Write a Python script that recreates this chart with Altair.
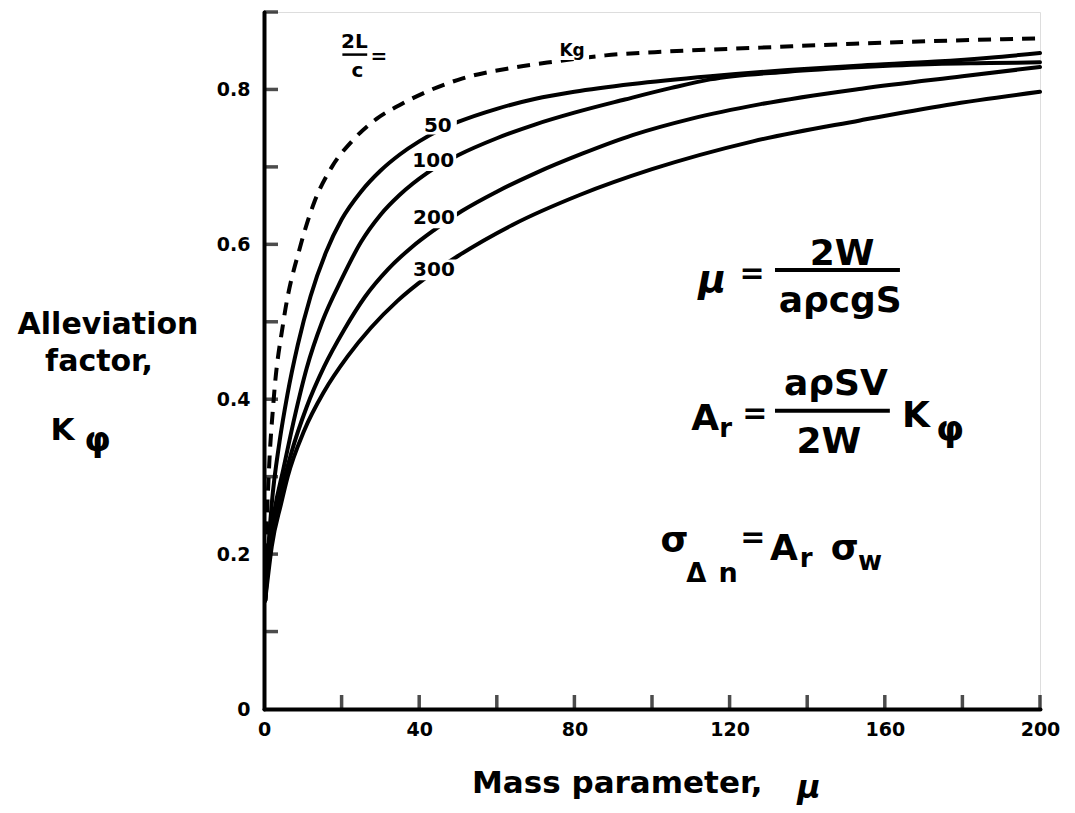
import altair as alt
import pandas as pd

# ---------------- data ----------------
mu_kg = [0.3, 0.6, 1.2, 2.5, 5, 9.5, 13, 17.5, 23, 29, 35, 41, 51, 64, 75, 88, 104, 128, 152, 176, 200]
k_kg = [0.14, 0.22, 0.30, 0.40, 0.50, 0.60, 0.655, 0.70, 0.735, 0.762, 0.78, 0.795, 0.814, 0.828, 0.836,
        0.844, 0.849, 0.854, 0.859, 0.863, 0.866]

mu_50 = [0.3, 1, 2, 4, 6, 8.7, 12, 16, 20, 25, 30, 35, 40, 45, 50, 60, 70, 80, 95, 115, 135, 154, 173, 187, 200]
k_50 = [0.14, 0.20, 0.265, 0.345, 0.405, 0.47, 0.533, 0.59, 0.632, 0.668, 0.695, 0.716, 0.733, 0.747, 0.758,
        0.775, 0.788, 0.797, 0.807, 0.817, 0.825, 0.831, 0.836, 0.841, 0.847]

mu_100 = [0.3, 1, 2.5, 5, 7.8, 11, 15, 20, 25, 30, 35, 42, 50, 60, 70, 80, 93, 105, 115, 135, 154, 173, 187, 200]
k_100 = [0.14, 0.19, 0.25, 0.31, 0.375, 0.44, 0.50, 0.555, 0.603, 0.638, 0.664, 0.692, 0.715, 0.737, 0.755,
         0.77, 0.787, 0.802, 0.813, 0.823, 0.829, 0.833, 0.834, 0.835]

mu_200 = [0.3, 1, 2, 4.4, 7, 11, 15.5, 20.7, 26, 32, 38, 44, 51, 60, 70, 82, 95, 110, 128, 154, 180, 200]
k_200 = [0.14, 0.18, 0.22, 0.28, 0.33, 0.39, 0.442, 0.49, 0.532, 0.568, 0.596, 0.619, 0.643, 0.668, 0.692,
         0.717, 0.741, 0.762, 0.781, 0.801, 0.817, 0.829]

mu_300 = [0.3, 1, 2, 4.4, 6.1, 10.4, 15.5, 21.5, 27.5, 34.4, 42, 50, 64, 81.5, 100, 126, 153.6, 176, 200]
k_300 = [0.14, 0.17, 0.21, 0.265, 0.30, 0.36, 0.41, 0.455, 0.492, 0.527, 0.558, 0.585, 0.625, 0.664, 0.697,
         0.733, 0.76, 0.78, 0.797]

curve_names = ["50", "100", "200", "300"]
label_mu = [44.8, 43.6, 43.8, 43.8]
label_k = [0.753, 0.708, 0.634, 0.567]

x_tick_values = [20, 40, 60, 80, 100, 120, 140, 160, 180, 200]
y_tick_values = [0.1, 0.2, 0.3, 0.4, 0.5, 0.6, 0.7, 0.8, 0.9]
x_label_values = [0, 40, 80, 120, 160, 200]
y_label_values = [0, 0.2, 0.4, 0.6, 0.8]

# ---------------- build tables ----------------
rows = []
for name, (m, k) in {"50": (mu_50, k_50), "100": (mu_100, k_100),
                     "200": (mu_200, k_200), "300": (mu_300, k_300)}.items():
    rows += [{"curve": name, "mu": a, "K": b} for a, b in zip(m, k)]
solid_df = pd.DataFrame(rows)
kg_df = pd.DataFrame({"mu": mu_kg, "K": k_kg})
lab_df = pd.DataFrame({"t": curve_names, "mu": label_mu, "K": label_k,
                       "box": [38 ** 2, 46 ** 2, 46 ** 2, 46 ** 2]})

W, H = 776, 697
FONT = "DejaVu Sans"
xs = alt.Scale(domain=[0, 200], nice=False, zero=False)
ys = alt.Scale(domain=[0, 0.9], nice=False, zero=False)

xax = alt.Axis(values=x_label_values, ticks=False, grid=False, domainWidth=4, domainColor="black",
               domainCap="round", labelFont=FONT, labelFontWeight="bold", labelFontSize=19,
               labelColor="black", labelPadding=11, labelFlush=False, title=None)
yax = alt.Axis(values=y_label_values, ticks=False, grid=False, domainWidth=4, domainColor="black",
               domainCap="round", labelFont=FONT, labelFontWeight="bold", labelFontSize=19,
               labelColor="black", labelPadding=14, labelFlush=False, title=None,
               labelExpr="datum.value == 0 ? '0' : format(datum.value, '.1f')")

solid = alt.Chart(solid_df).mark_line(color="black", strokeWidth=4, strokeCap="round",
                                      strokeJoin="round", interpolate="monotone").encode(
    x=alt.X("mu:Q", scale=xs, axis=xax),
    y=alt.Y("K:Q", scale=ys, axis=yax),
    detail="curve:N",
)
dashed = alt.Chart(kg_df).mark_line(color="black", strokeWidth=4, strokeDash=[13, 9],
                                    interpolate="monotone").encode(
    x=alt.X("mu:Q", scale=xs), y=alt.Y("K:Q", scale=ys))

boxes = alt.Chart(lab_df).mark_point(shape="M-1,-0.45H1V0.45H-1Z", filled=True, color="white",
                                     opacity=1, strokeWidth=0).encode(
    x=alt.X("mu:Q", scale=xs), y=alt.Y("K:Q", scale=ys), size=alt.Size("box:Q", scale=None, legend=None))
labels = alt.Chart(lab_df).mark_text(font=FONT, fontWeight="bold", fontSize=20, color="black",
                                     baseline="middle").encode(
    x=alt.X("mu:Q", scale=xs), y=alt.Y("K:Q", scale=ys), text="t:N")

xticks = alt.Chart(pd.DataFrame({"v": x_tick_values})).mark_tick(
    orient="vertical", color="black", thickness=3.5, size=14).encode(
    x=alt.X("v:Q", scale=xs), y=alt.value(H - 7))
yticks = alt.Chart(pd.DataFrame({"v": y_tick_values})).mark_tick(
    orient="horizontal", color="black", thickness=3.5, size=14).encode(
    y=alt.Y("v:Q", scale=ys), x=alt.value(7))


def ann(t, mu, k, size, baseline="alphabetic", italic=False, align="center"):
    kw = dict(font=FONT, fontWeight="bold", fontSize=size, color="black", baseline=baseline, align=align)
    if italic:
        kw["fontStyle"] = "italic"
    return alt.Chart(pd.DataFrame({"t": [t], "mu": [mu], "K": [k]})).mark_text(**kw).encode(
        x=alt.X("mu:Q", scale=xs), y=alt.Y("K:Q", scale=ys), text="t:N")


def bar(m1, m2, k, w=4):
    return alt.Chart(pd.DataFrame({"a": [m1], "b": [m2], "K": [k]})).mark_rule(
        color="black", strokeWidth=w).encode(
        x=alt.X("a:Q", scale=xs), x2="b:Q", y=alt.Y("K:Q", scale=ys))


def px_text(t, x, y, size, baseline="alphabetic", italic=False, align="center"):
    kw = dict(font=FONT, fontWeight="bold", fontSize=size, color="black", baseline=baseline,
              align=align, x=x, y=y)
    if italic:
        kw["fontStyle"] = "italic"
    return alt.Chart(pd.DataFrame({"t": [t]})).mark_text(**kw).encode(text="t:N")


kg_box = alt.Chart(pd.DataFrame({"mu": [79.4], "K": [0.849]})).mark_point(
    shape="M-1,-0.5H1V0.5H-1Z", filled=True, color="white", opacity=1, strokeWidth=0, size=34 ** 2).encode(
    x=alt.X("mu:Q", scale=xs), y=alt.Y("K:Q", scale=ys))

annots = [
    kg_box,
    ann("Kg", 79.4, 0.849, 17, "middle"),
    ann("2L", 23.3, 0.861, 20, "middle"),
    bar(20.2, 26.6, 0.845, 2.5),
    ann("c", 24.1, 0.824, 20, "middle"),
    ann("=", 29.6, 0.842, 20, "middle"),
    # formula 1
    ann("μ", 115.5, 0.538, 38, italic=True),
    ann("=", 125.8, 0.562, 30, "middle"),
    ann("2W", 149.0, 0.573, 36),
    bar(131.7, 163.9, 0.567),
    ann("aρcgS", 148.5, 0.513, 36),
    # formula 2
    ann("A", 113.7, 0.360, 36),
    ann("r", 119.0, 0.351, 26),
    ann("=", 126.5, 0.381, 30, "middle"),
    ann("aρSV", 147.4, 0.405, 36),
    bar(131.7, 161.3, 0.385),
    ann("2W", 145.6, 0.331, 36),
    ann("K", 168.0, 0.364, 36),
    ann("φ", 176.8, 0.360, 36, "middle"),
    # formula 3
    ann("σ", 105.8, 0.203, 36),
    ann("Δ", 111.4, 0.164, 26),
    ann("n", 119.6, 0.164, 27),
    ann("=", 126.0, 0.221, 30, "middle"),
    ann("A", 134.0, 0.192, 36),
    ann("r", 139.7, 0.183, 26),
    ann("σ", 149.7, 0.192, 36),
    ann("w", 156.2, 0.179, 26),
    # axis titles (pixels relative to the plot origin)
    px_text("Alleviation", -156, 322, 30),
    px_text("factor,", -165, 359, 30),
    px_text("K", -201.5, 428, 31),
    px_text("φ", -166.5, 429, 34, "middle"),
    px_text("Mass parameter,", 208, 781, 31, align="left"),
    px_text("μ", 545, 786, 32, italic=True),
]

chart = alt.layer(solid, dashed, boxes, labels, xticks, yticks, *annots).properties(
    width=W, height=H,
    autosize=alt.AutoSizeParams(type="none"),
    padding={"left": 264, "top": 12, "right": 35, "bottom": 104},
).configure_view(stroke=None).configure(background="white")

chart.save("out.html", embed_options={"renderer": "svg", "actions": False})
